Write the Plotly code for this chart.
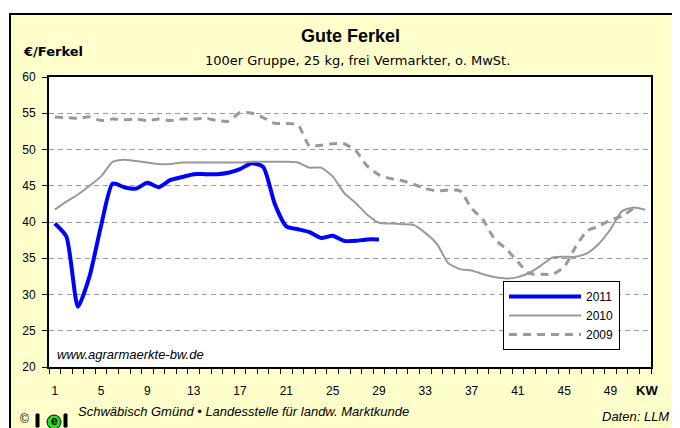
import plotly.graph_objects as go

weeks_2011 = list(range(1, 30))
vals_2011 = [39.8, 38.0, 28.3, 32.5, 39.5, 45.3, 44.8, 44.6, 45.4, 44.8,
             45.8, 46.2, 46.6, 46.6, 46.6, 46.8, 47.3, 48.1, 47.6, 42.5,
             39.4, 39.0, 38.6, 37.8, 38.1, 37.4, 37.4, 37.6, 37.6]

weeks_2010 = list(range(1, 53))
vals_2010 = [41.7, 42.8, 43.8, 45.0, 46.3, 48.3, 48.6, 48.4, 48.2, 48.0,
             48.0, 48.2, 48.2, 48.2, 48.2, 48.2, 48.2, 48.3, 48.3, 48.3,
             48.3, 48.2, 47.5, 47.5, 46.3, 44.0, 42.6, 41.0, 39.9, 39.8,
             39.7, 39.6, 38.5, 37.0, 34.3, 33.5, 33.3, 32.8, 32.4, 32.2,
             32.4, 33.0, 34.0, 35.1, 35.2, 35.2, 35.7, 37.0, 39.0, 41.5,
             42.0, 41.7]

weeks_2009 = list(range(1, 52))
vals_2009 = [54.5, 54.4, 54.3, 54.5, 54.0, 54.2, 54.1, 54.2, 54.0, 54.2,
             54.0, 54.2, 54.2, 54.3, 54.0, 53.9, 55.1, 55.0, 54.4, 53.6,
             53.6, 53.4, 50.5, 50.6, 50.8, 50.8, 49.8, 47.7, 46.5, 46.0,
             45.7, 45.2, 44.6, 44.3, 44.4, 44.3, 41.9, 40.3, 37.6, 36.3,
             34.5, 32.9, 32.8, 32.8, 33.8, 36.6, 38.8, 39.4, 40.3, 40.8,
             41.9]

x_tick_vals = list(range(1, 50, 4))
x_tick_text = [str(v) for v in x_tick_vals]
y_tick_vals = list(range(20, 61, 5))

# page body adds an 8px offset; the figure is sized to fill the rest of the window
OFF = 8
W, H = 680 - OFF, 428 - OFF
L, R, T, B = 49, 651, 77, 367  # plot area in screen pixels


def px(x):
    return (x - L) / (R - L)


def py(y):
    return (B - y) / (B - T)


FONT = "Liberation Sans, Arial, sans-serif"
WIDE = "DejaVu Sans, Verdana, sans-serif"

fig = go.Figure()
fig.add_trace(go.Scatter(x=weeks_2011, y=vals_2011, name="2011", mode="lines",
                         line=dict(color="#0000FF", width=4, shape="spline", smoothing=0.6)))
fig.add_trace(go.Scatter(x=weeks_2010, y=vals_2010, name="2010", mode="lines",
                         line=dict(color="#999999", width=2, shape="spline", smoothing=0.6)))
fig.add_trace(go.Scatter(x=weeks_2009, y=vals_2009, name="2009", mode="lines",
                         line=dict(color="#999999", width=3, dash="8px,6px", shape="spline", smoothing=0.6)))

shapes = [
    # outer yellow frame
    dict(type="rect", xref="paper", yref="paper", layer="below",
         x0=px(10), x1=px(678), y0=py(436), y1=py(14),
         fillcolor="#FFFFCC", line=dict(color="black", width=2)),
    # white plot area
    dict(type="rect", xref="paper", yref="paper", layer="below",
         x0=0, x1=1, y0=0, y1=1,
         fillcolor="white", line=dict(width=0)),
    # logo bars
    dict(type="rect", xref="paper", yref="paper", layer="above",
         x0=px(36), x1=px(39), y0=py(427), y1=py(414),
         fillcolor="black", line=dict(color="black", width=1)),
    dict(type="rect", xref="paper", yref="paper", layer="above",
         x0=px(64), x1=px(67), y0=py(427), y1=py(414),
         fillcolor="black", line=dict(color="black", width=1)),
    dict(type="circle", xref="paper", yref="paper", layer="above",
         x0=px(47), x1=px(61), y0=py(429), y1=py(415),
         fillcolor="#22DD22", line=dict(color="black", width=1)),
]

annotations = [
    dict(text="<b>Gute Ferkel</b>", x=px(350), y=py(36), xref="paper", yref="paper",
         showarrow=False, font=dict(size=18, color="black", family=FONT), xanchor="center", yanchor="middle"),
    dict(text="100er Gruppe, 25 kg, frei Vermarkter, o. MwSt.", x=px(357), y=py(60),
         xref="paper", yref="paper", showarrow=False,
         font=dict(size=13, color="black", family=WIDE), xanchor="center", yanchor="middle"),
    dict(text="<b>€/Ferkel</b>", x=px(21), y=py(52), xref="paper", yref="paper",
         showarrow=False, font=dict(size=13, color="black", family=WIDE), xanchor="left", yanchor="middle"),
    dict(text="<b>KW</b>", x=px(647), y=py(390), xref="paper", yref="paper",
         showarrow=False, font=dict(size=13, color="black", family=FONT), xanchor="center", yanchor="middle"),
    dict(text="<i>www.agrarmaerkte-bw.de</i>", x=px(55), y=py(354), xref="paper", yref="paper",
         showarrow=False, font=dict(size=13, color="black", family=FONT), xanchor="left", yanchor="middle"),
    dict(text="©", x=px(24), y=py(419), xref="paper", yref="paper",
         showarrow=False, font=dict(size=12, color="black", family=FONT), xanchor="center", yanchor="middle"),
    dict(text="<b>e</b>", x=px(54), y=py(421), xref="paper", yref="paper",
         showarrow=False, font=dict(size=12, color="black", family=FONT), xanchor="center", yanchor="middle"),
    dict(text="<i>Schwäbisch Gmünd • Landesstelle für landw. Marktkunde</i>", x=px(76), y=py(411),
         xref="paper", yref="paper", showarrow=False,
         font=dict(size=13, color="black", family=FONT), xanchor="left", yanchor="middle"),
    dict(text="<i>Daten: LLM</i>", x=px(671), y=py(416), xref="paper", yref="paper",
         showarrow=False, font=dict(size=13, color="black", family=FONT), xanchor="right", yanchor="middle"),
]

fig.update_layout(
    width=W, height=H,
    margin=dict(l=L - OFF, r=680 - R, t=T - OFF, b=428 - B, pad=0),
    paper_bgcolor="white",
    plot_bgcolor="white",
    font=dict(family=FONT, size=12, color="black"),
    shapes=shapes,
    annotations=annotations,
    showlegend=True,
    legend=dict(x=px(503), y=py(281), xanchor="left", yanchor="top",
                bgcolor="white", bordercolor="black", borderwidth=1,
                font=dict(size=12, family=FONT), itemwidth=72,
                tracegroupgap=0),
)

fig.update_xaxes(range=[0.5, 52.5], tickmode="array", tickvals=x_tick_vals, ticktext=x_tick_text,
                 ticks="outside", ticklen=12, tickcolor="rgba(0,0,0,0)",
                 showline=True, linecolor="black", linewidth=2, mirror=True,
                 showgrid=False, zeroline=False,
                 tickfont=dict(size=12, family=FONT),
                 minor=dict(ticks="outside", ticklen=5, tickcolor="black", tickwidth=1,
                            tickmode="linear", tick0=0.5, dtick=1, showgrid=False))
fig.update_yaxes(range=[20, 60], tickmode="array", tickvals=y_tick_vals,
                 ticks="outside", ticklen=5, tickcolor="black", tickwidth=1,
                 showline=True, linecolor="black", linewidth=2, mirror=True,
                 showgrid=True, gridcolor="#999999", gridwidth=1, griddash="5px,4px",
                 zeroline=False, ticklabelstandoff=4,
                 tickfont=dict(size=12, family=FONT))

fig.write_html("out.html")
